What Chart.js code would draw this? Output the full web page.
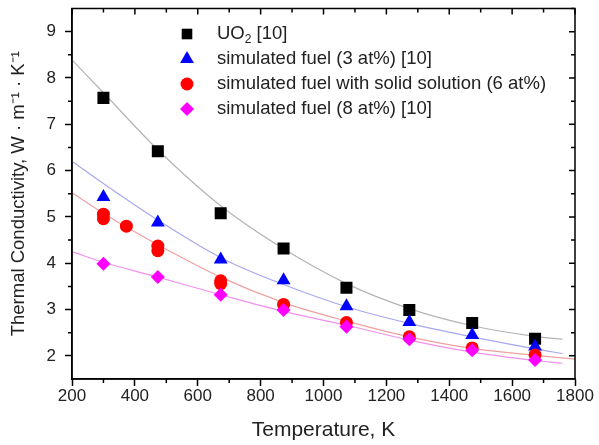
<!DOCTYPE html>
<html>
<head>
<meta charset="utf-8">
<script src="https://cdn.jsdelivr.net/npm/chart.js@4"></script>
<style>
  html, body { margin: 0; padding: 0; background: #fff; }
  #wrap { width: 599px; height: 445px; position: relative; }
</style>
</head>
<body>
<div id="wrap"><canvas id="chart"></canvas></div>
<script>
const FONT = "'Liberation Sans', Arial, sans-serif";
const INK = '#222';

// axis ticks
const xTicks = [200, 400, 600, 800, 1000, 1200, 1400, 1600, 1800];
const yTicks = [2, 3, 4, 5, 6, 7, 8, 9];

// measured points
const tempMain  = [300, 473, 673, 873, 1073, 1273, 1473, 1673];
const kUO2      = [7.57, 6.42, 5.08, 4.32, 3.47, 2.99, 2.71, 2.37];
const kSim3     = [5.43, 4.88, 4.08, 3.63, 3.07, 2.73, 2.45, 2.20];
const kSim8     = [3.99, 3.70, 3.32, 2.99, 2.63, 2.36, 2.12, 1.91];
const tempSolid = [300, 300, 373, 473, 473, 673, 673, 873, 1073, 1273, 1473, 1673];
const kSolid    = [5.06, 4.96, 4.80, 4.37, 4.27, 3.62, 3.56, 3.11, 2.72, 2.41, 2.17, 2.02];

// fitted curves
const fitTemp      = [200, 300, 473, 673, 873, 1073, 1273, 1473, 1673, 1760];
const fitUO2       = [8.39, 7.68, 6.45, 5.24, 4.31, 3.56, 3.02, 2.65, 2.42, 2.36];
const fitSim3      = [6.20, 5.72, 4.93, 4.12, 3.54, 3.06, 2.70, 2.41, 2.15, 2.05];
const fitSim8      = [4.25, 4.02, 3.70, 3.32, 2.96, 2.66, 2.34, 2.08, 1.90, 1.84];
const fitTempSolid = [200, 300, 373, 473, 673, 873, 1073, 1273, 1473, 1673, 1800];
const fitSolid     = [5.52, 5.08, 4.78, 4.40, 3.70, 3.15, 2.75, 2.41, 2.16, 2.01, 1.93];

const pts = (xs, ys) => xs.map((x, i) => ({ x: x, y: ys[i] }));

function markers(data, style, radius, color, order) {
  return {
    data: data, showLine: false, pointStyle: style, pointRadius: radius,
    backgroundColor: color, borderColor: color, borderWidth: 0, order: order,
  };
}
function curve(data, color) {
  return {
    data: data, showLine: true, pointRadius: 0, borderColor: color,
    borderWidth: 1.2, cubicInterpolationMode: 'monotone', order: 10,
  };
}

// legend entries drawn inside the plot
const legendRows = [
  { style: 'rect',     r: 7.5, color: '#000',    text: ['UO', '2', ' [10]'] },
  { style: 'triangle', r: 8,   color: '#0000ff', text: ['simulated fuel (3 at%) [10]'] },
  { style: 'circle',   r: 6.5, color: '#ff0000', text: ['simulated fuel with solid solution (6 at%)'] },
  { style: 'rectRot',  r: 7,   color: '#ff00ff', text: ['simulated fuel (8 at%) [10]'] },
];

const framePlugin = {
  id: 'frame',
  afterDraw(chart) {
    const { ctx, chartArea: a, scales: { x, y } } = chart;
    ctx.save();
    ctx.strokeStyle = '#000';
    ctx.lineWidth = 1.5;
    ctx.strokeRect(a.left, a.top, a.right - a.left, a.bottom - a.top);
    ctx.beginPath();
    for (let v = 300; v < 1800; v += 200) {
      const px = x.getPixelForValue(v);
      ctx.moveTo(px, a.bottom); ctx.lineTo(px, a.bottom + 4);
    }
    for (let v = 200; v <= 1800; v += 100) {
      const px = x.getPixelForValue(v);
      const len = v % 200 === 0 ? 6 : 4;
      ctx.moveTo(px, a.top); ctx.lineTo(px, a.top + len);
    }
    for (let v = 2.5; v < 9.5; v += 1) {
      const py = y.getPixelForValue(v);
      ctx.moveTo(a.left - 4, py); ctx.lineTo(a.left, py);
    }
    for (let v = 2; v <= 9.5; v += 0.5) {
      const py = y.getPixelForValue(v);
      const len = v % 1 === 0 ? 6 : 4;
      ctx.moveTo(a.right - len, py); ctx.lineTo(a.right, py);
    }
    ctx.stroke();

    // legend
    ctx.textBaseline = 'middle';
    legendRows.forEach((row, i) => {
      const ly = 34 + i * 25;
      ctx.fillStyle = row.color;
      Chart.helpers.drawPoint(ctx, { pointStyle: row.style, radius: row.r, rotation: 0, borderWidth: 0 }, 187, ly);
      ctx.fillStyle = INK;
      let tx = 217;
      ctx.font = '18.5px ' + FONT;
      ctx.fillText(row.text[0], tx, ly);
      if (row.text.length > 1) {
        tx += ctx.measureText(row.text[0]).width;
        ctx.font = '12px ' + FONT;
        ctx.fillText(row.text[1], tx, ly + 6);
        tx += ctx.measureText(row.text[1]).width;
        ctx.font = '18.5px ' + FONT;
        ctx.fillText(row.text[2], tx, ly);
      }
    });
    ctx.restore();
  },
};

new Chart(document.getElementById('chart'), {
  type: 'scatter',
  data: {
    datasets: [
      markers(pts(tempMain, kUO2), 'rect', 8.5, '#000', 3),
      markers(pts(tempMain, kSim3), 'triangle', 8, '#0000ff', 2),
      markers(pts(tempSolid, kSolid), 'circle', 6.5, '#ff0000', 1),
      markers(pts(tempMain, kSim8), 'rectRot', 7, '#ff00ff', 0),
      curve(pts(fitTemp, fitUO2), '#b4b4b4'),
      curve(pts(fitTemp, fitSim3), '#a8a8f0'),
      curve(pts(fitTempSolid, fitSolid), '#f0a0a0'),
      curve(pts(fitTemp, fitSim8), '#f090f0'),
    ],
  },
  options: {
    responsive: true,
    maintainAspectRatio: false,
    animation: false,
    layout: { padding: { top: 8, right: 24, left: 0, bottom: 0 } },
    plugins: { legend: { display: false }, tooltip: { enabled: false } },
    scales: {
      x: {
        type: 'linear', min: 200, max: 1800,
        afterBuildTicks: s => { s.ticks = xTicks.map(v => ({ value: v })); },
        afterFit: s => { s.height = 66; s.paddingLeft = 0; s.paddingRight = 0; },
        ticks: { color: INK, font: { family: FONT, size: 17 }, padding: 0, maxRotation: 0, autoSkip: false, callback: v => String(v) },
        grid: { drawOnChartArea: false, tickLength: 7, tickWidth: 1.5, tickColor: '#000' },
        border: { color: '#000', width: 1.5 },
        title: { display: true, text: 'Temperature, K', color: INK, font: { family: FONT, size: 21 }, padding: { top: 4, bottom: 2 } },
      },
      y: {
        min: 1.5, max: 9.5,
        afterBuildTicks: s => { s.ticks = yTicks.map(v => ({ value: v })); },
        afterFit: s => { s.width = 72; s.paddingTop = 0; s.paddingBottom = 0; },
        ticks: { color: INK, font: { family: FONT, size: 17 }, padding: 9, callback: v => String(v) },
        grid: { drawOnChartArea: false, tickLength: 7, tickWidth: 1.5, tickColor: '#000' },
        border: { color: '#000', width: 1.5 },
        title: { display: true, text: 'Thermal Conductivity, W · m⁻¹ · K⁻¹', color: INK, font: { family: FONT, size: 18.5 }, padding: { top: 8, bottom: 0 } },
      },
    },
  },
  plugins: [framePlugin],
});
</script>
</body>
</html>
